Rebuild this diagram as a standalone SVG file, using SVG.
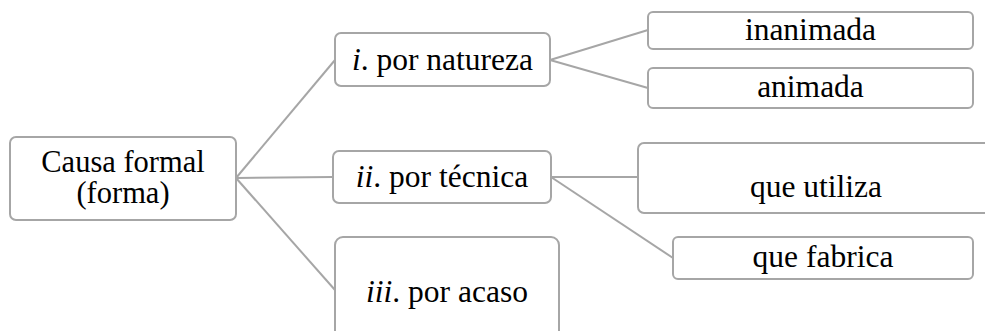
<svg xmlns="http://www.w3.org/2000/svg" width="985" height="331" viewBox="0 0 985 331">
<style>
.box{fill:#ffffff;stroke:#a6a6a6;stroke-width:2}
.ln{stroke:#a6a6a6;stroke-width:2;fill:none}
.t{font-family:"Liberation Serif","Times New Roman",serif;font-size:31.5px;fill:#000;text-anchor:middle}
.it{font-style:italic}
</style>
<rect width="985" height="331" fill="#ffffff"/>
<g id="connectors">
<line class="ln" x1="236" y1="178" x2="335" y2="60"/>
<line class="ln" x1="236" y1="178" x2="333" y2="177"/>
<line class="ln" x1="236" y1="178" x2="335" y2="290"/>
<line class="ln" x1="550" y1="60" x2="648" y2="30"/>
<line class="ln" x1="550" y1="60" x2="648" y2="88"/>
<line class="ln" x1="551" y1="177" x2="638" y2="177"/>
<line class="ln" x1="551" y1="177" x2="673" y2="258"/>
</g>
<g id="causa">
<rect class="box" x="10" y="137" width="226" height="83" rx="6"/>
<text class="t" x="123" y="171.5" style="font-size:30.5px">Causa formal</text>
<text class="t" x="123" y="203" style="font-size:30.5px">(forma)</text>
</g>
<g id="natureza">
<rect class="box" x="335" y="33" width="215" height="53" rx="6"/>
<text class="t" x="442.5" y="70"><tspan class="it">i</tspan>. por natureza</text>
</g>
<g id="inanimada">
<rect class="box" x="648" y="12" width="325" height="37" rx="5"/>
<text class="t" x="810.5" y="39.5">inanimada</text>
</g>
<g id="animada">
<rect class="box" x="648" y="68" width="325" height="40" rx="5"/>
<text class="t" x="810.5" y="97">animada</text>
</g>
<g id="tecnica">
<rect class="box" x="333" y="151" width="218" height="52" rx="6"/>
<text class="t" x="442" y="187"><tspan class="it">ii</tspan>. por técnica</text>
</g>
<g id="utiliza">
<rect class="box" x="638" y="143" width="356" height="70" rx="6"/>
<text class="t" x="816" y="196.5">que utiliza</text>
</g>
<g id="fabrica">
<rect class="box" x="673" y="237" width="300" height="42" rx="5"/>
<text class="t" x="823" y="266.5">que fabrica</text>
</g>
<g id="acaso">
<rect class="box" x="335" y="237" width="224" height="110" rx="8"/>
<text class="t" x="447" y="301.5"><tspan class="it">iii</tspan>. por acaso</text>
</g>
</svg>
